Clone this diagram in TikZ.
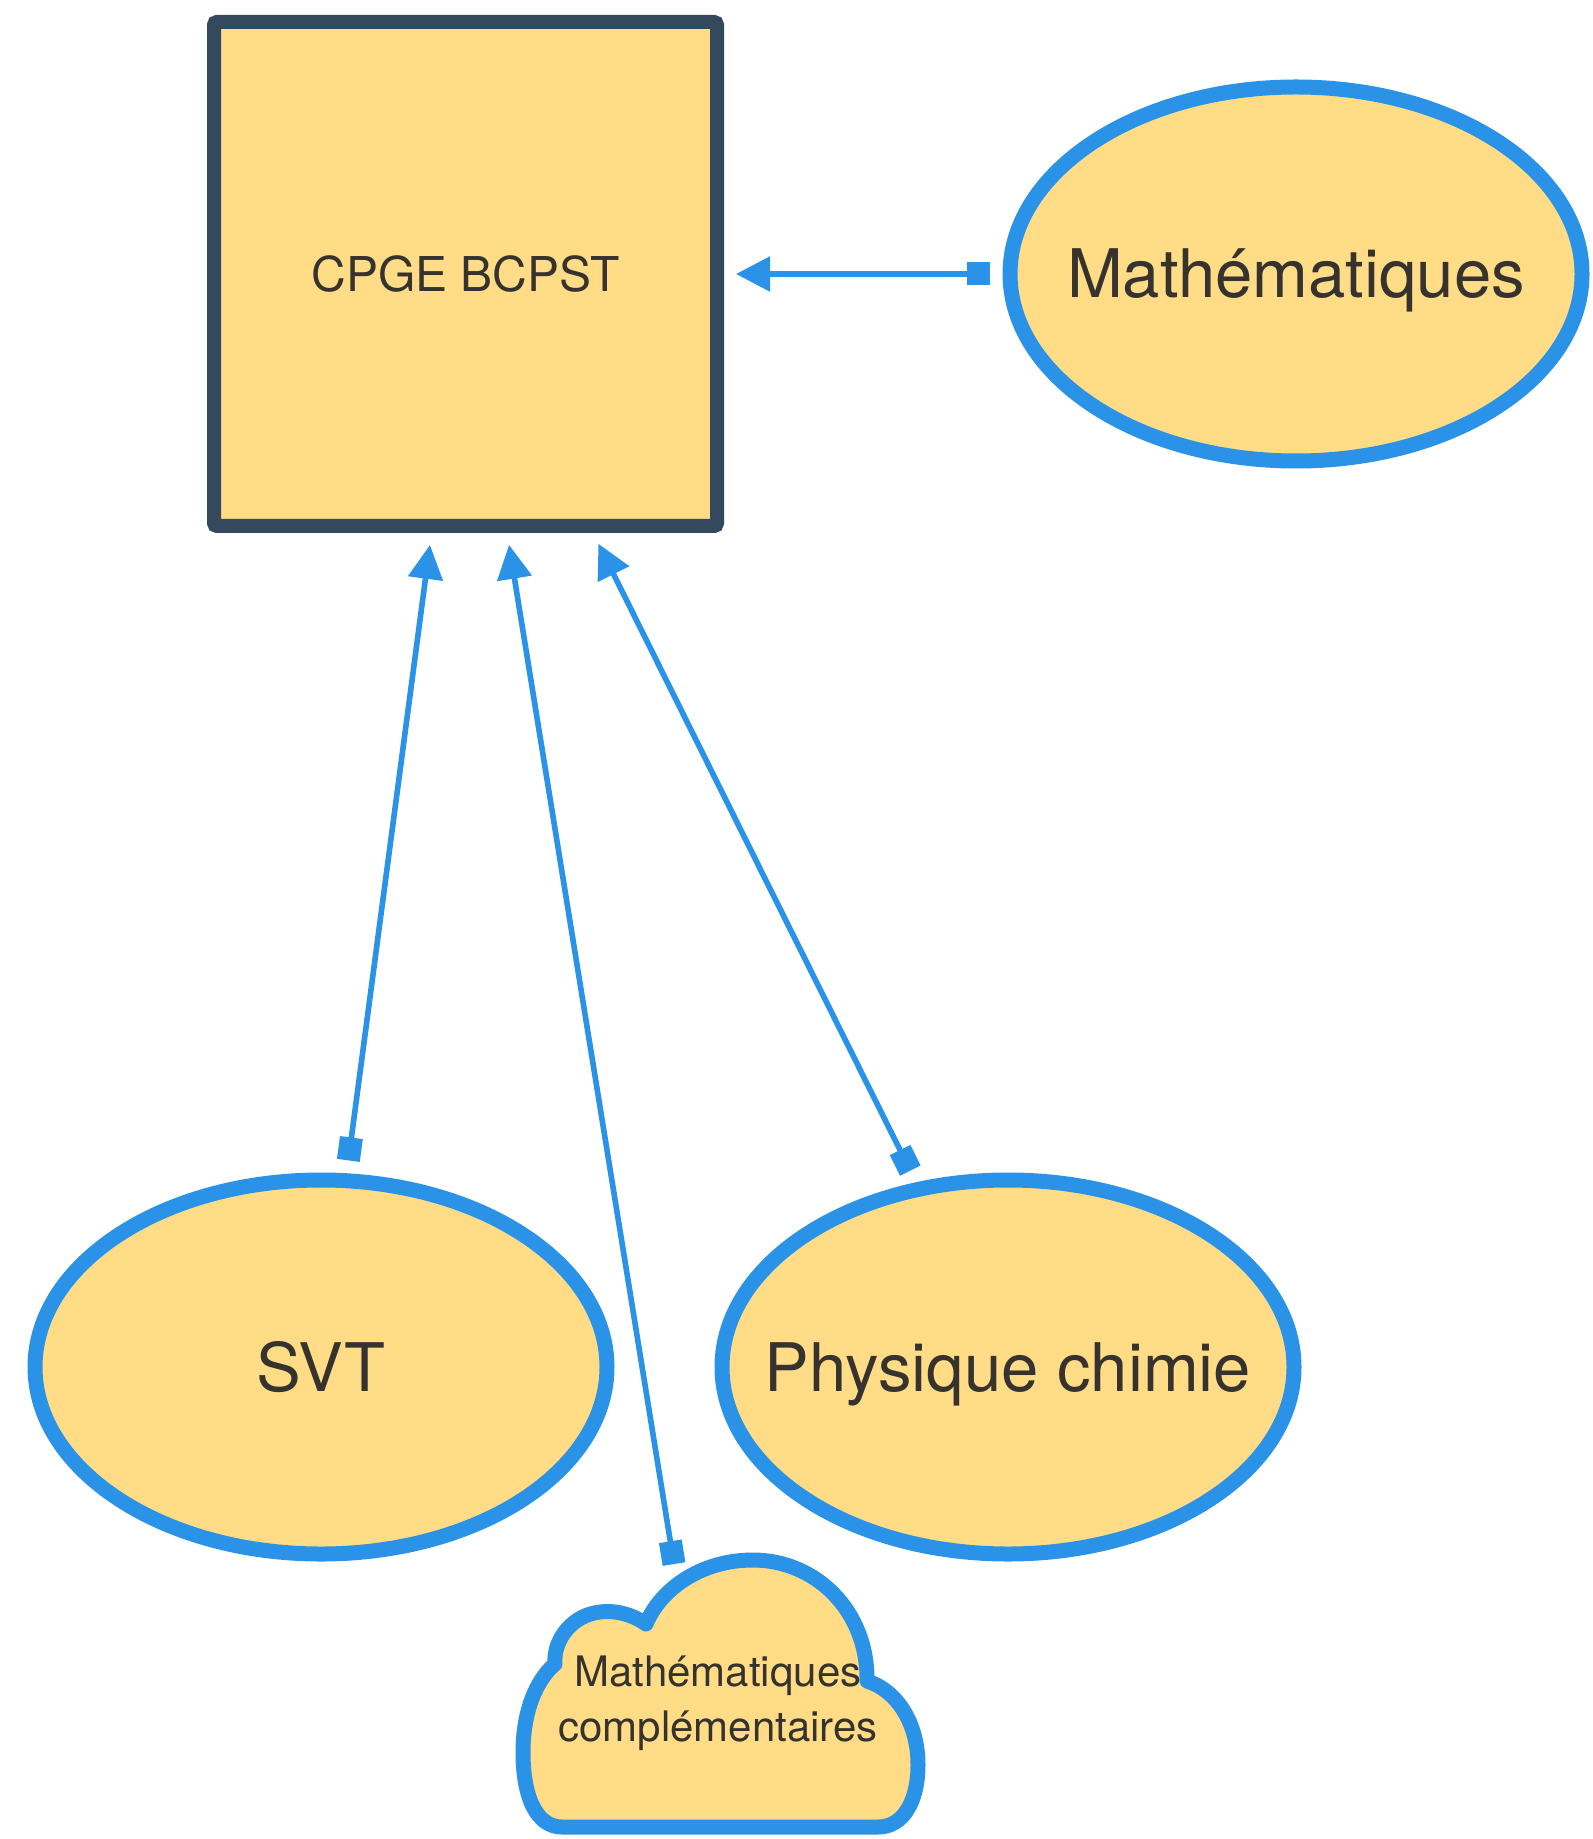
\documentclass[tikz,border=0pt]{standalone}
\usepackage{fontspec}
\setmainfont{TeX Gyre Heros}
\usetikzlibrary{arrows.meta,shapes.geometric}
\definecolor{boxfill}{HTML}{FFDC85}
\definecolor{boxline}{HTML}{34495E}
\definecolor{blueline}{HTML}{2A93E8}
\definecolor{txt}{HTML}{36332E}
\tikzset{
  sqbox/.style={draw=boxline, fill=boxfill, line width=7pt, rounded corners=1.5pt,
    minimum width=251.5pt, minimum height=252pt, text=txt, font=\fontsize{24}{28}\selectfont,
    text height=17.2pt, text depth=0pt},
  ellbox/.style={ellipse, draw=blueline, fill=boxfill, line width=7.5pt,
    minimum width=286pt, minimum height=187pt, inner sep=0pt, text=txt,
    font=\fontsize{33.5}{38}\selectfont, text height=24pt, text depth=0pt},
  cloudline/.style={draw=blueline, fill=boxfill, line width=7.5pt, line join=round},
  cloudtext/.style={text=txt, align=center, inner sep=0pt, font=\fontsize{21}{27.5}\selectfont},
  conn/.style={draw=blueline, line width=2.8pt,
    {Square[length=11.5pt,width=11.5pt]}-{Triangle[length=17pt,width=17pt]}},
}
\begin{document}
\begin{tikzpicture}[x=0.5pt,y=-0.5pt]
\useasboundingbox (0,0) rectangle (1593,1839);
% nodes
\node[sqbox] (sq) at (465.5,274) {CPGE BCPST};
\node[ellbox] (math) at (1296,274) {\makebox[0pt]{Mathématiques}};
\node[ellbox] (svt) at (321,1367) {\makebox[0pt]{SVT}};
\node[ellbox] (phys) at (1008,1367) {\makebox[0pt]{Physique chimie}};
% cloud
\path[cloudline]
  (562,1827) -- (878,1827)
  .. controls (904,1827) and (918,1800) .. (918,1765)
  .. controls (918,1722) and (896,1690) .. (867,1681)
  .. controls (868,1610) and (815,1560) .. (753,1560)
  .. controls (700,1560) and (660,1590) .. (646,1624)
  .. controls (632,1614) and (614,1610) .. (600,1612)
  .. controls (572,1615) and (553,1640) .. (555,1664)
  .. controls (536,1680) and (523,1712) .. (523,1752)
  .. controls (523,1800) and (538,1827) .. (562,1827) -- cycle;
\node[cloudtext] (mc) at (718,1703) {Mathématiques\\complémentaires};
\coordinate (cloudtop) at (674,1564);
% connectors
\draw[conn, shorten <=6.5pt, shorten >=6pt] (math) -- (sq);
\draw[conn, shorten <=6.5pt, shorten >=6pt] (svt) -- (sq);
\draw[conn, shorten <=6.5pt, shorten >=6pt] (phys) -- (sq);
\draw[conn, shorten >=6pt] (cloudtop) -- (sq);
\end{tikzpicture}
\end{document}
